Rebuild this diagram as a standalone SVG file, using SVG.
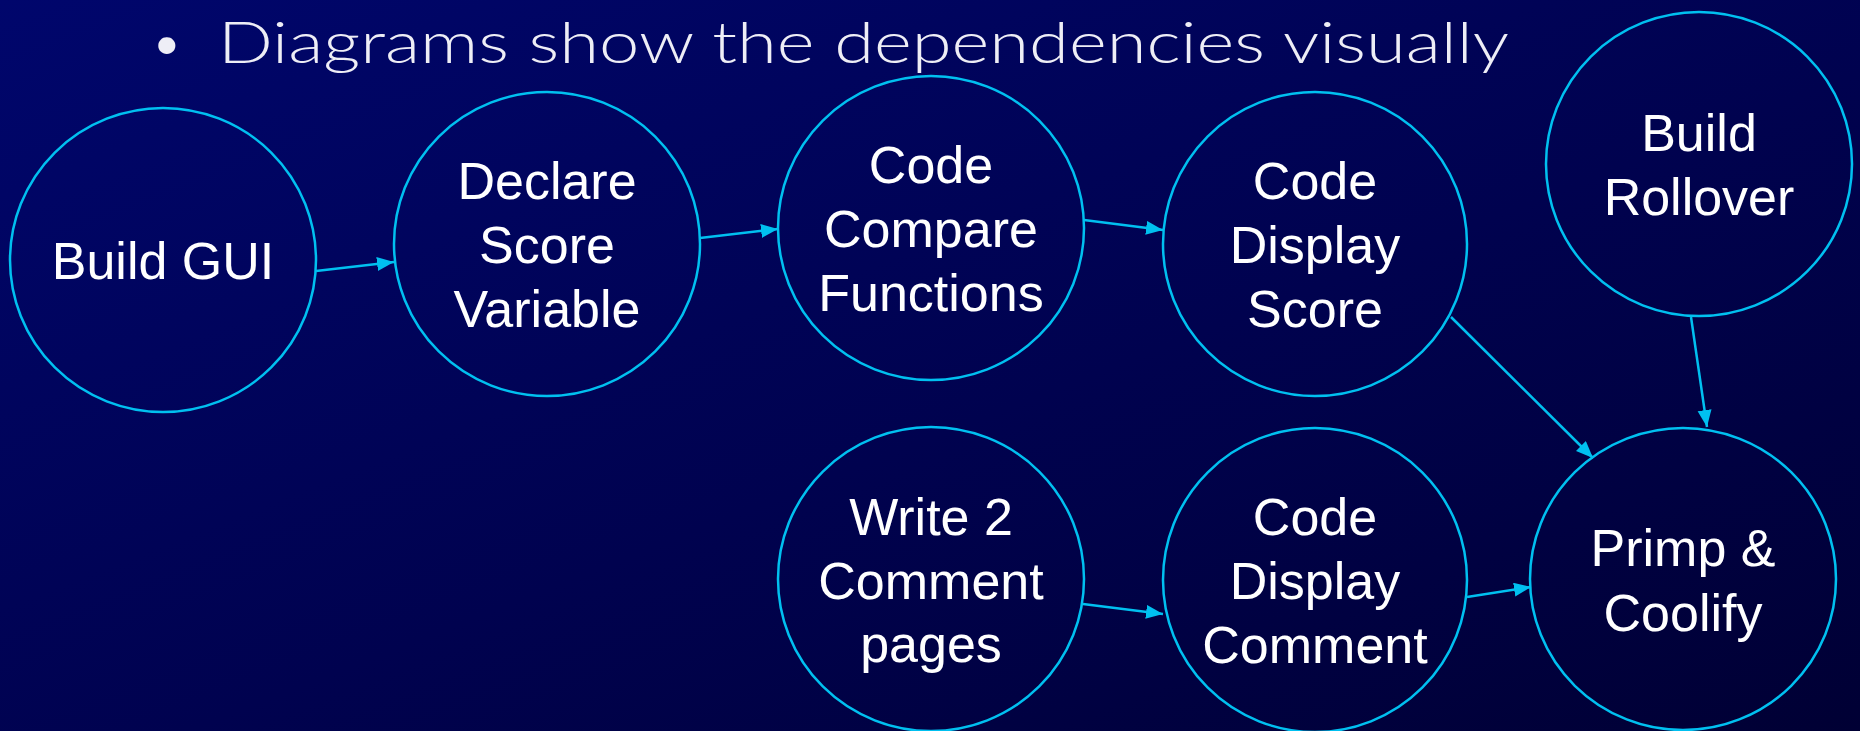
<svg xmlns="http://www.w3.org/2000/svg" width="1860" height="731" viewBox="0 0 1860 731">
  <defs>
    <linearGradient id="bg" x1="0" y1="0" x2="1" y2="1">
      <stop offset="0" stop-color="#00066c"/>
      <stop offset="0.55" stop-color="#00024f"/>
      <stop offset="1" stop-color="#000034"/>
    </linearGradient>
    <marker id="arrow" markerUnits="userSpaceOnUse" markerWidth="20" markerHeight="16" refX="17" refY="7" orient="auto">
      <path d="M0,0 L17,7 L0,14 Z" fill="#00c0f0"/>
    </marker>
    <style>
      .node ellipse { fill: none; stroke: #00c0f0; stroke-width: 2.5; }
      .node text { font-family: "Liberation Sans", Arial, sans-serif; font-size: 52px; fill: #ffffff; text-anchor: middle; }
      .edge { stroke: #00c0f0; stroke-width: 2.5; fill: none; marker-end: url(#arrow); }
      .title { font-family: Lato, "Open Sans", sans-serif; font-weight: 300; font-size: 58px; fill: #eeeef6; }
    </style>
  </defs>

  <rect x="0" y="0" width="1860" height="731" fill="url(#bg)"/>

  <!-- heading -->
  <text class="title" x="150" y="63">•</text>
  <text class="title" x="218" y="63" textLength="1291" lengthAdjust="spacingAndGlyphs">Diagrams show the dependencies visually</text>

  <!-- dependency arrows -->
  <g id="connectors">
    <line class="edge" x1="316" y1="271" x2="394" y2="262"/>
    <line class="edge" x1="700" y1="238" x2="778" y2="229"/>
    <line class="edge" x1="1084" y1="220" x2="1163" y2="230"/>
    <line class="edge" x1="1451" y1="317" x2="1593" y2="458"/>
    <line class="edge" x1="1691" y1="317" x2="1707" y2="427"/>
    <line class="edge" x1="1083" y1="604" x2="1163" y2="614"/>
    <line class="edge" x1="1467" y1="597" x2="1531" y2="587"/>
  </g>

  <g id="build-gui" class="node">
    <ellipse cx="163" cy="260" rx="153" ry="152"/>
    <text x="163" y="279">Build GUI</text>
  </g>

  <g id="declare-score-variable" class="node">
    <ellipse cx="547" cy="244" rx="153" ry="152"/>
    <text x="547" y="199">Declare</text>
    <text x="547" y="263">Score</text>
    <text x="547" y="327">Variable</text>
  </g>

  <g id="code-compare-functions" class="node">
    <ellipse cx="931" cy="228" rx="153" ry="152"/>
    <text x="931" y="183">Code</text>
    <text x="931" y="247">Compare</text>
    <text x="931" y="311">Functions</text>
  </g>

  <g id="code-display-score" class="node">
    <ellipse cx="1315" cy="244" rx="152" ry="152"/>
    <text x="1315" y="199">Code</text>
    <text x="1315" y="263">Display</text>
    <text x="1315" y="327">Score</text>
  </g>

  <g id="build-rollover" class="node">
    <ellipse cx="1699" cy="164" rx="153" ry="152"/>
    <text x="1699" y="151">Build</text>
    <text x="1699" y="215">Rollover</text>
  </g>

  <g id="write-comment-pages" class="node">
    <ellipse cx="931" cy="579" rx="153" ry="152"/>
    <text x="931" y="535">Write 2</text>
    <text x="931" y="599">Comment</text>
    <text x="931" y="662">pages</text>
  </g>

  <g id="code-display-comment" class="node">
    <ellipse cx="1315" cy="580" rx="152" ry="152"/>
    <text x="1315" y="535">Code</text>
    <text x="1315" y="599">Display</text>
    <text x="1315" y="663">Comment</text>
  </g>

  <g id="primp-coolify" class="node">
    <ellipse cx="1683" cy="579" rx="153" ry="151"/>
    <text x="1683" y="566">Primp &amp;</text>
    <text x="1683" y="631">Coolify</text>
  </g>
</svg>
